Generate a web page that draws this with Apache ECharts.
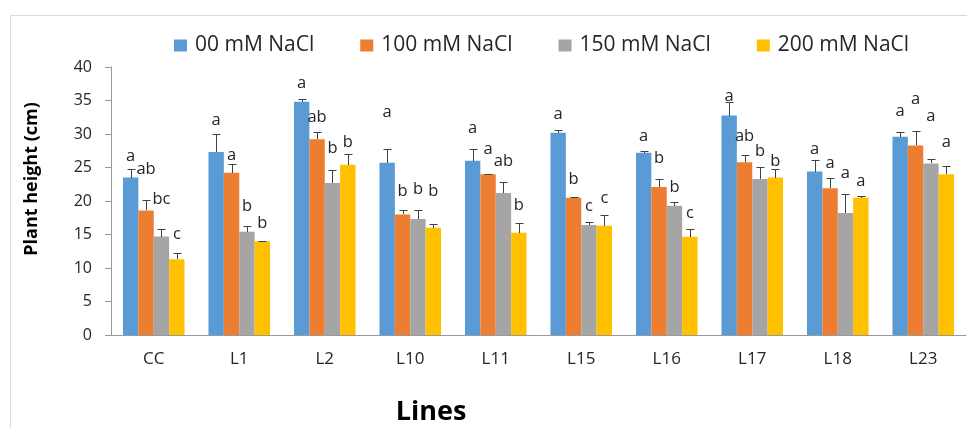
<!DOCTYPE html>
<html>
<head>
<meta charset="utf-8">
<script src="https://cdn.jsdelivr.net/npm/echarts@6/dist/echarts.min.js"></script>
<style>
html,body{margin:0;padding:0;background:#fff;}
#chart{width:967px;height:428px;}
</style>
</head>
<body>
<div id="chart"></div>
<script>
// ---- data ----
const categories = ['CC', 'L1', 'L2', 'L10', 'L11', 'L15', 'L16', 'L17', 'L18', 'L23'];
const seriesNames = ['00 mM NaCl', '100 mM NaCl', '150 mM NaCl', '200 mM NaCl'];
const mean00  = [23.5, 27.3, 34.8, 25.7, 26.0, 30.2, 27.2, 32.75, 24.4, 29.6];
const mean100 = [18.6, 24.2, 29.2, 18.0, 24.0, 20.5, 22.1, 25.8, 21.9, 28.3];
const mean150 = [14.7, 15.4, 22.7, 17.3, 21.2, 16.4, 19.3, 23.3, 18.2, 25.6];
const mean200 = [11.3, 14.0, 25.4, 16.0, 15.25, 16.3, 14.65, 23.5, 20.5, 24.0];
const se00  = [1.3, 2.7, 0.4, 2.0, 1.7, 0.4, 0.3, 2.0, 1.7, 0.7];
const se100 = [1.6, 1.3, 1.1, 0.6, 0.05, 0.05, 1.2, 1.1, 1.6, 2.2];
const se150 = [1.1, 0.9, 1.9, 1.4, 1.6, 0.45, 0.6, 1.8, 2.9, 0.7];
const se200 = [0.9, 0.05, 1.6, 0.55, 1.5, 1.55, 1.15, 1.3, 0.2, 1.2];
const letters00  = ['a', 'a', 'a', 'a', 'a', 'a', 'a', 'a', 'a', 'a'];
const letters100 = ['ab', 'a', 'ab', 'b', 'a', 'b', 'b', 'ab', 'a', 'a'];
const letters150 = ['bc', 'b', 'b', 'b', 'ab', 'c', 'b', 'b', 'a', 'a'];
const letters200 = ['c', 'b', 'b', 'b', 'b', 'c', 'c', 'b', 'a', 'a'];
const yTicks = [0, 5, 10, 15, 20, 25, 30, 35, 40];

// ---- annotation layout (heights of the significance letters, in axis units) ----
const letterAt00  = [26.7, 32.0, 37.6, 33.25, 30.8, 32.9, 29.7, 35.7, 27.7, 33.4];
const letterAt100 = [24.8, 26.8, 32.5, 21.4, 27.7, 23.2, 26.4, 29.6, 25.7, 35.2];
const letterAt150 = [20.2, 19.2, 27.9, 21.7, 25.9, 19.2, 22.1, 27.4, 24.1, 32.65];
const letterAt200 = [15.05, 16.7, 28.8, 21.4, 19.4, 20.4, 18.2, 26.0, 23.0, 28.8];

const colors = ['#5B9BD5', '#ED7D31', '#A5A5A5', '#FFC000'];
const means = [mean00, mean100, mean150, mean200];
const ses = [se00, se100, se150, se200];
const letters = [letters00, letters100, letters150, letters200];
const letterAt = [letterAt00, letterAt100, letterAt150, letterAt200];
const catGap = 0.28;
const FONT = '"Open Sans", sans-serif';

const chart = echarts.init(document.getElementById('chart'), null, {renderer: 'canvas'});

const barSeries = seriesNames.map((name, s) => ({
  name: name,
  type: 'bar',
  data: means[s],
  barGap: '0%',
  barCategoryGap: (catGap * 100) + '%',
  itemStyle: {color: colors[s]},
  emphasis: {disabled: true},
  z: 2
}));

const errSeries = seriesNames.map((name, s) => ({
  type: 'custom',
  name: name + ' err',
  z: 5,
  silent: true,
  data: categories.map((c, i) => [i, means[s][i], means[s][i] + ses[s][i], letterAt[s][i]]),
  encode: {x: 0, y: [1, 2]},
  renderItem: function (params, api) {
    const i = api.value(0);
    const band = api.size([1, 0])[0];
    const bw = band * (1 - catGap) / 4;
    const dx = (s - 1.5) * bw;
    const pMean = api.coord([i, api.value(1)]);
    const pTop = api.coord([i, api.value(2)]);
    const pLab = api.coord([i, api.value(3)]);
    const x = Math.round(pMean[0] + dx) + 0.5;
    const yT = Math.round(pTop[1]) + 0.5;
    const yM = Math.round(pMean[1]);
    const stroke = {stroke: '#404040', lineWidth: 1};
    return {
      type: 'group',
      children: [
        {type: 'line', shape: {x1: x, y1: yM, x2: x, y2: yT}, style: stroke},
        {type: 'line', shape: {x1: x - 4, y1: yT, x2: x + 4, y2: yT}, style: stroke},
        {type: 'text', x: pMean[0] + dx, y: pLab[1],
          style: {text: letters[s][params.dataIndex], fill: '#262626', font: '16.5px ' + FONT,
            align: 'center', verticalAlign: 'middle'}}
      ]
    };
  }
}));

const option = {
  animation: false,
  backgroundColor: '#ffffff',
  textStyle: {fontFamily: FONT},
  grid: {left: 111, right: 1, top: 67, bottom: 93, containLabel: false},
  legend: {
    data: seriesNames,
    left: 169,
    top: 30,
    icon: 'rect',
    itemWidth: 13,
    itemHeight: 12,
    itemGap: 46,
    textStyle: {fontSize: 21, color: '#262626', fontFamily: FONT, padding: [0, 0, 0, 3]}
  },
  xAxis: {
    type: 'category',
    data: categories,
    axisLine: {lineStyle: {color: '#9a9a9a', width: 1}},
    axisTick: {show: false},
    axisLabel: {fontSize: 17, color: '#262626', margin: 16, fontFamily: FONT}
  },
  yAxis: {
    type: 'value',
    min: yTicks[0],
    max: yTicks[yTicks.length - 1],
    interval: 5,
    splitLine: {show: false},
    axisLine: {show: true, lineStyle: {color: '#9a9a9a', width: 1}},
    axisTick: {show: true, length: 6, lineStyle: {color: '#9a9a9a'}},
    axisLabel: {fontSize: 16, color: '#262626', margin: 19, fontFamily: FONT}
  },
  graphic: [
    {type: 'rect', silent: true, z: -1,
      shape: {x: 10.5, y: 15.5, width: 1000, height: 500},
      style: {fill: 'none', stroke: '#d9d9d9', lineWidth: 1}},
    {type: 'text', silent: true, x: 431, y: 412,
      style: {text: 'Lines', font: 'bold 27px ' + FONT, fill: '#000', align: 'center', verticalAlign: 'middle'}},
    {type: 'text', silent: true, x: 32, y: 179, rotation: Math.PI / 2,
      style: {text: 'Plant height (cm)', font: 'bold 18px ' + FONT, fill: '#000', align: 'center', verticalAlign: 'middle'}}
  ],
  series: barSeries.concat(errSeries)
};
chart.setOption(option);
</script>
</body>
</html>
